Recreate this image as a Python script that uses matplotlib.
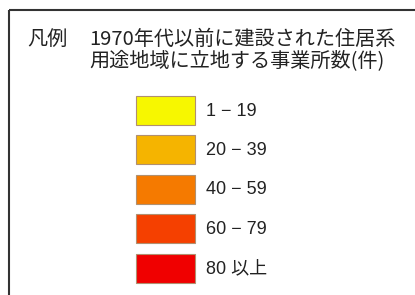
import matplotlib.pyplot as plt
from matplotlib.patches import Rectangle

plt.rcParams['font.family'] = ['Noto Sans CJK JP', 'DejaVu Sans']

# データ
title_head = '凡例'
title_lines = ['1970年代以前に建設された住居系', '用途地域に立地する事業所数(件)']
labels = ['1 − 19', '20 − 39', '40 − 59', '60 − 79', '80 以上']
colors = ['#F7F700', '#F5B400', '#F57A00', '#F54000', '#F00000']

W, H = 415, 295
fig = plt.figure(figsize=(W / 100, H / 100), dpi=100)
ax = fig.add_axes([0, 0, 1, 1])
ax.set_xlim(0, W)
ax.set_ylim(H, 0)
ax.axis('off')

# 枠線（右と下は画像外まで続く）
ax.add_patch(Rectangle((9, 10), W, H, fill=False, edgecolor='#333333', linewidth=1.5))

# タイトル
ax.text(27, 39, title_head, fontsize=14.5, va='center', ha='left', color='#222222')
for i, line in enumerate(title_lines):
    ax.text(89, 39 + i * 23, line, fontsize=14.5, va='center', ha='left', color='#222222')

# 凡例の色見本
bars = ax.barh(range(len(labels)), [59] * len(labels), left=136, height=29,
               color=colors, edgecolor='#B09070', linewidth=0.8)
# y 位置を画素座標に合わせる
for i, (b, lab) in enumerate(zip(bars, labels)):
    yc = 110 + i * 39.5
    b.set_y(yc - 14.5)
    ax.text(206, yc + 1, lab, fontsize=13, va='center', ha='left', color='#222222',
            family=['Liberation Sans', 'Noto Sans CJK JP'])

fig.savefig('out.png', dpi=100)
